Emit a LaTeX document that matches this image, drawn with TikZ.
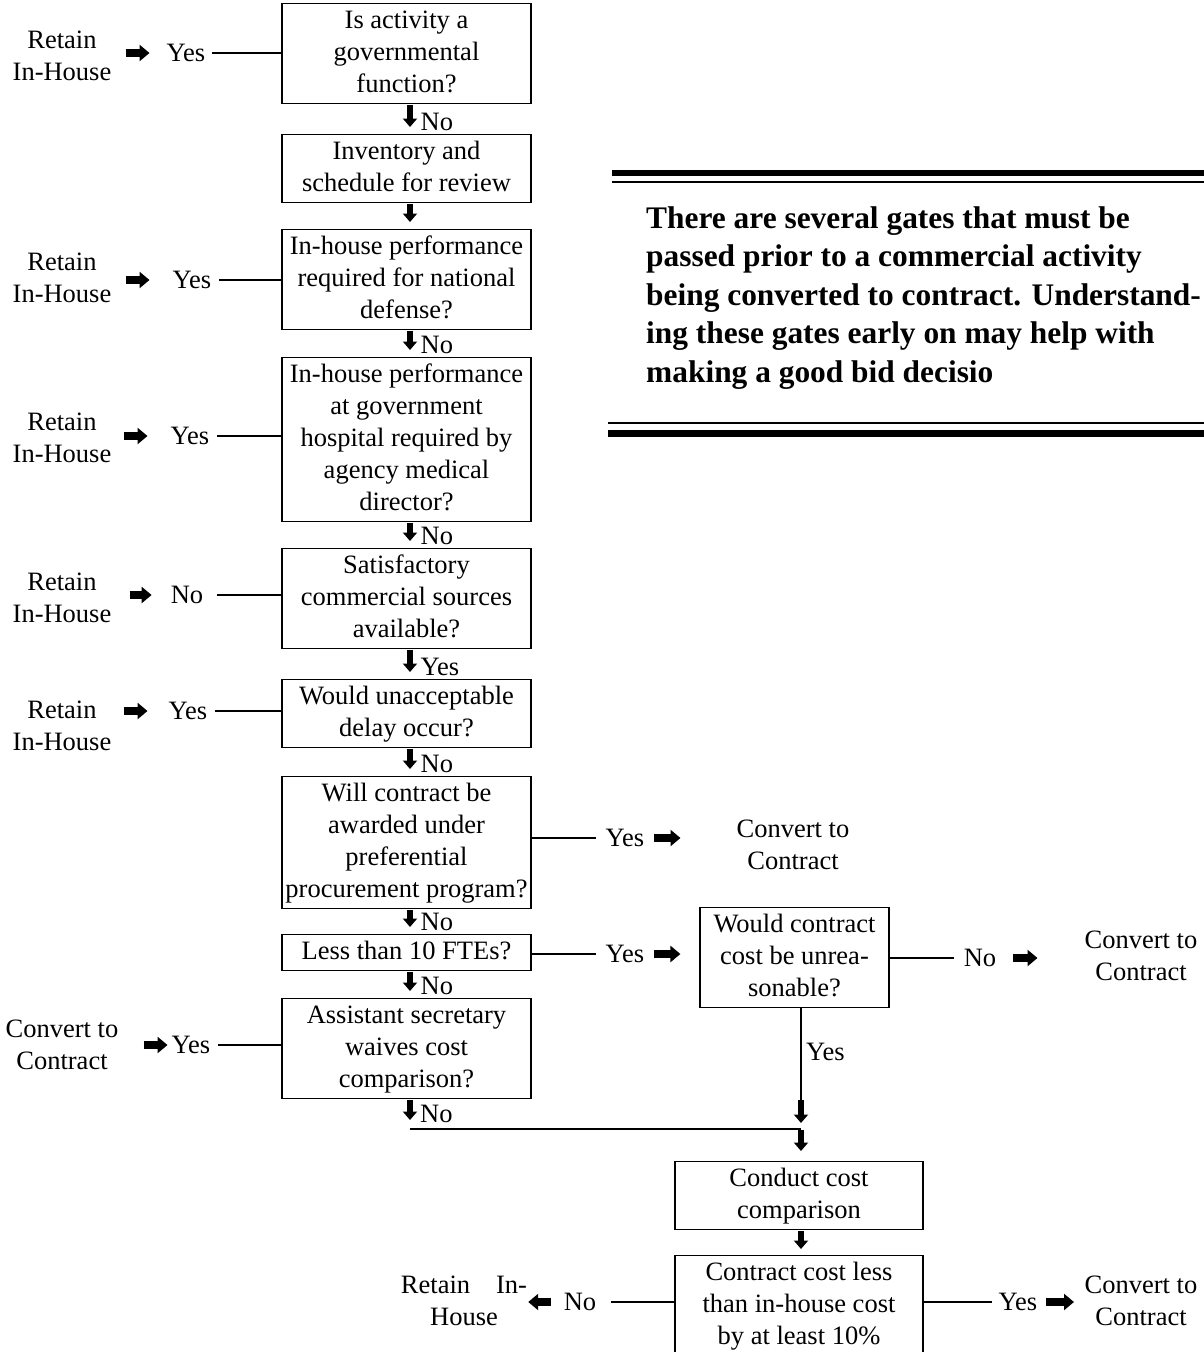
\documentclass[tikz,border=0pt]{standalone}
\usepackage{fontspec}
\setmainfont{Liberation Serif}
\usetikzlibrary{arrows.meta,calc}
\newcommand\mainfs{\fontsize{26.5pt}{32pt}\selectfont}
\newcommand\boldfs{\fontsize{31.4pt}{38.5pt}\selectfont\bfseries}
\begin{document}
\begin{tikzpicture}[x=1pt,y=-1pt,
  every node/.style={font=\mainfs, inner sep=0pt},
  box/.style={draw, line width=1.2pt, align=center, minimum width=249pt, inner xsep=2pt, inner ysep=2pt, anchor=north},
  lbl/.style={align=center},
  tag/.style={anchor=base west},
  conn/.style={line width=1.2pt},
  fatdown/.style={line width=6pt, -{Triangle[width=14pt,length=8.5pt]}, shorten <=1pt, shorten >=7pt},
  fatright/.style={line width=7.5pt, -{Triangle[width=16pt,length=10pt]}},
  rule/.style={line width=#1}]
\useasboundingbox (0,0) rectangle (1204,1352);
\fill[white] (0,0) rectangle (1204,1352);
\clip (0,0) rectangle (1204,1352);

% main column
\node[box] (b1) at (406.5,3) {\strut Is activity a\\governmental\\function?\strut};
\node[box] (b2) at (406.5,134) {\strut Inventory and\\schedule for review\strut};
\node[box] (b3) at (406.5,229) {\strut In-house performance\\required for national\\defense?\strut};
\node[box] (b4) at (406.5,357) {\strut In-house performance\\at government\\hospital required by\\agency medical\\director?\strut};
\node[box] (b5) at (406.5,548) {\strut Satisfactory\\commercial sources\\available?\strut};
\node[box] (b6) at (406.5,679) {\strut Would unacceptable\\delay occur?\strut};
\node[box] (b7) at (406.5,776) {\strut Will contract be\\awarded under\\preferential\\procurement program?\strut};
\node[box] (b8) at (406.5,934) {\strut Less than 10 FTEs?\strut};
\node[box] (b9) at (406.5,998) {\strut Assistant secretary\\waives cost\\comparison?\strut};
\node[box, minimum width=189pt] (b10) at (794.5,907) {\strut Would contract\\cost be unrea-\\sonable?\strut};
\node[box, minimum width=248pt] (b11) at (799,1161) {\strut Conduct cost\\comparison\strut};
\node[box, minimum width=248pt] (b12) at (799,1255) {\strut Contract cost less\\than in-house cost\\by at least 10\%\strut};

% down arrows in main column
\foreach \a/\b in {b1/b2,b2/b3,b3/b4,b4/b5,b5/b6,b6/b7,b7/b8,b8/b9}
  \draw[fatdown] ($(\a.south)+(3.5,0)$) -- ($(\b.north)+(3.5,0)$);
\node[tag] (d1) at ($(b2.north)+(14,-4)$) {No};
\node[tag] (d3) at ($(b4.north)+(14,-4)$) {No};
\node[tag] (d4) at ($(b5.north)+(14,-4)$) {No};
\node[tag] (d5) at ($(b6.north)+(14,-4)$) {Yes};
\node[tag] (d6) at ($(b7.north)+(14,-4)$) {No};
\node[tag] (d7) at ($(b8.north)+(14,-4)$) {No};
\node[tag] (d8) at ($(b9.north)+(14,-4)$) {No};

% left rows
\node[lbl] (r1) at (62,56) {Retain\\In-House};
\node (y1) at (186,53) {Yes};
\draw[conn] ($(y1.east)+(7,0)$) -- (y1.east -| b1.west);
\draw[fatright] ($(r1.east |- y1)+(14,0)$) -- ($(y1.west)+(-17,0)$);

\node[lbl] (r3) at (62,278) {Retain\\In-House};
\node (y3) at (192,280) {Yes};
\draw[conn] ($(y3.east)+(8,0)$) -- (y3.east -| b3.west);
\draw[fatright] ($(r3.east |- y3)+(14,0)$) -- ($(y3.west)+(-23,0)$);

\node[lbl] (r4) at (62,438) {Retain\\In-House};
\node (y4) at (190,436) {Yes};
\draw[conn] ($(y4.east)+(8,0)$) -- (y4.east -| b4.west);
\draw[fatright] ($(r4.east |- y4)+(12,0)$) -- ($(y4.west)+(-23,0)$);

\node[lbl] (r5) at (62,598) {Retain\\In-House};
\node (n5) at (187,595) {No};
\draw[conn] ($(n5.east)+(14,0)$) -- (n5.east -| b5.west);
\draw[fatright] ($(r5.east |- n5)+(18,0)$) -- ($(n5.west)+(-19,0)$);

\node[lbl] (r6) at (62,726) {Retain\\In-House};
\node (y6) at (188,711) {Yes};
\draw[conn] ($(y6.east)+(8,0)$) -- (y6.east -| b6.west);
\draw[fatright] ($(r6.east |- y6)+(12,0)$) -- ($(y6.west)+(-21,0)$);

\node[lbl] (c9) at (62,1045) {Convert to\\Contract};
\node (y9) at (191,1045) {Yes};
\draw[conn] ($(y9.east)+(8,0)$) -- (y9.east -| b9.west);
\draw[fatright] ($(c9.east |- y9)+(25,0)$) -- ($(y9.west)+(-4,0)$);

% right rows
\node (y7) at (625,838) {Yes};
\node[lbl] (c7) at (793,845) {Convert to\\Contract};
\draw[conn] (b7.east |- y7) -- ($(y7.west)+(-10,0)$);
\draw[fatright] ($(y7.east)+(9.5,0)$) -- ($(y7.east -| c7.west)+(-56,0)$);

\node (y8) at (625,954) {Yes};
\draw[conn] (b8.east |- y8) -- ($(y8.west)+(-10,0)$);
\draw[fatright] ($(y8.east)+(9.5,0)$) -- ($(y8.east -| b10.west)+(-19,0)$);

\node (n10) at (980,958) {No};
\node[lbl] (c10) at (1141,956) {Convert to\\Contract};
\draw[conn] (b10.east |- n10) -- ($(n10.west)+(-10,0)$);
\draw[fatright] ($(n10.east)+(17,0)$) -- ($(n10.east -| c10.west)+(-47,0)$);

% join to cost comparison
\coordinate (j1) at (801,1100);
\coordinate (jR) at (801,1129);
\coordinate (jL) at (410,1129);
\draw[conn] (b10.south -| j1) -- (j1);
\node[anchor=west] (yes10) at (806,1052) {Yes};
\draw[fatdown, shorten <=0pt, shorten >=6pt] (j1) -- (jR);
\draw[conn] (jL) -- (jR);
\draw[fatdown, shorten >=9pt] ($(b9.south)+(3.5,0)$) -- (jL);
\node[tag] (d9) at ($(jL)+(10,-7)$) {No};
\draw[fatdown, shorten >=10pt] (jR) -- (b11.north -| jR);
\draw[fatdown, shorten >=6pt] (b11.south -| jR) -- (b12.north -| jR);

% bottom rows
\node (n12) at (580,1302) {No};
\node[lbl] (r12) at (464,1301) {Retain\hspace{26pt}In-\\House};
\draw[conn] (b12.west |- n12) -- ($(n12.east)+(15,0)$);
\draw[fatright] ($(n12.west)+(-12.5,0)$) -- ($(n12.west -| r12.east)+(1,0)$);

\node (y12) at (1018,1302) {Yes};
\node[lbl] (c12) at (1141,1301) {Convert to\\Contract};
\draw[conn] (b12.east |- y12) -- ($(y12.west)+(-7,0)$);
\draw[fatright] ($(y12.east)+(8.5,0)$) -- ($(y12.east -| c12.west)+(-10.5,0)$);

% note
\draw[rule=6pt] (612,172.5) -- (1204,172.5);
\draw[rule=2pt] (612,182) -- (1204,182);
\draw[rule=2pt] (608,423) -- (1204,423);
\draw[rule=7pt] (608,433) -- (1204,433);
\node[anchor=north west, align=left, font=\boldfs] (note) at (646,201) {\strut There are several gates that must be\\passed prior to a commercial activity\\being converted to contract. Understand-\\ing these gates early on may help with\\making a good bid decisio\strut};
\end{tikzpicture}
\end{document}
